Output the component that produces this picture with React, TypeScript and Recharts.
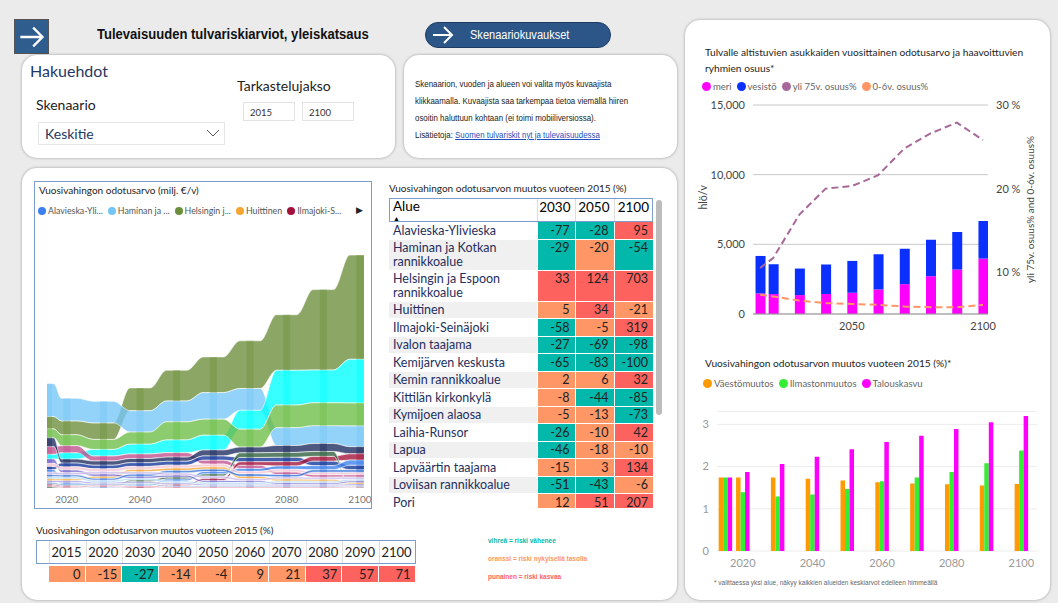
import { Area, Bar, BarChart, CartesianGrid, ComposedChart, Line, XAxis, YAxis } from "recharts";

const SEGOE = "'Segoe UI', Lato, 'Open Sans', sans-serif";
const NARROW = "'Liberation Sans Narrow', 'Arial Narrow', 'Liberation Sans', sans-serif";

const YEARS = [2015, 2020, 2030, 2040, 2050, 2060, 2070, 2080, 2090, 2100];

// Vuosivahingon odotusarvo (milj. €/v) per alue — ribbon chart
const RIBBON_NAMES = [
  "Helsingin ja Espoon rannikkoalue",
  "Haminan ja Kotkan rannikkoalue",
  "Muu alue 1",
  "Muu alue 2",
  "Muu alue 3",
  "Muu alue 4",
  "Pori",
  "Ilmajoki-Seinäjoki",
  "Muu alue 5",
  "Alavieska-Ylivieska",
  "Huittinen",
  "Ivalon taajama",
  "Kemijärven keskusta",
  "Kemin rannikkoalue",
  "Kittilän kirkonkylä",
  "Kymijoen alaosa",
  "Laihia-Runsor",
  "Lapua",
  "Lapväärtin taajama",
];
const RIBBON_VALUES = [
  [12.5, 14, 16.7, 23, 31, 36, 48, 56, 81, 105],
  [33, 22.7, 21.7, 21.5, 21, 26.7, 22, 18, 18, 21],
  [4.7, 6.5, 6.7, 10, 13, 15, 19, 35, 33, 44],
  [9, 11, 10, 12, 18, 16, 18, 22.7, 23, 23],
  [7.7, 7, 5, 4.6, 4.5, 4, 3.2, 2.6, 2.5, 2.4],
  [8.8, 4, 4.3, 4.2, 4.2, 6, 5.8, 7, 8, 7.2],
  [3, 3.8, 3.5, 3.8, 3.9, 4.2, 4.4, 4.5, 4.6, 4.6],
  [1.5, 1.2, 0.8, 1.0, 1.4, 2.2, 3.5, 4.3, 4.8, 6.3],
  [1.2, 0.3, 0.3, 1.8, 2.0, 2.3, 4.6, 4.8, 4.9, 0.4],
  [2.6, 1.6, 0.6, 1.2, 1.9, 2.3, 2.9, 3.4, 4.1, 5.1],
  [2.0, 1.9, 2.1, 2.5, 2.7, 2.5, 2.3, 2.1, 1.9, 1.6],
  [4.5, 2.6, 2.3, 2.1, 2.0, 1.9, 1.8, 1.7, 1.6, 1.6],
  [3.2, 3.0, 2.9, 2.8, 2.8, 2.7, 2.6, 2.6, 2.5, 2.5],
  [2.2, 2.1, 2.0, 2.2, 2.3, 2.3, 2.4, 2.4, 2.5, 2.5],
  [1.8, 1.7, 1.7, 1.6, 1.6, 1.6, 1.5, 1.5, 1.5, 1.5],
  [1.6, 1.5, 1.4, 1.4, 1.3, 1.3, 1.3, 1.2, 1.2, 1.2],
  [1.2, 1.1, 1.1, 1.0, 1.0, 1.0, 1.0, 0.9, 0.9, 0.9],
  [2.0, 1.9, 1.9, 1.8, 1.8, 1.8, 1.7, 1.7, 1.7, 1.7],
  [2.5, 2.4, 2.3, 2.3, 2.2, 2.2, 2.2, 2.1, 2.1, 2.1],
];
const RIBBON_COLORS = [
  "#6b8e3a", "#74c5f7", "#00ffff", "#6cbd45", "#c04f8c", "#1b2a5c", "#10359a", "#a3123a", "#2e5e3c",
  "#3b80ee", "#f7a531", "#6f62c9", "#f3c5d2", "#2e6ed8", "#9b8fdc", "#7aa4d8", "#d9708f", "#a9d7f5", "#c9b8e8",
];
const RIBBON_LEGEND = [
  { label: "Alavieska-Yli...", color: "#3b80ee" },
  { label: "Haminan ja ...", color: "#74c5f7" },
  { label: "Helsingin j...", color: "#6b8e3a" },
  { label: "Huittinen", color: "#f7a531" },
  { label: "Ilmajoki-S...", color: "#a3123a" },
];

// Vuosivahingon odotusarvon muutos vuoteen 2015 (%) — taulukko
const REGIONS = [
  "Alavieska-Ylivieska", "Haminan ja Kotkan rannikkoalue", "Helsingin ja Espoon rannikkoalue", "Huittinen",
  "Ilmajoki-Seinäjoki", "Ivalon taajama", "Kemijärven keskusta", "Kemin rannikkoalue", "Kittilän kirkonkylä",
  "Kymijoen alaosa", "Laihia-Runsor", "Lapua", "Lapväärtin taajama", "Loviisan rannikkoalue", "Pori",
];
const CHANGE_2030 = [-77, -29, 33, 5, -58, -27, -65, 2, -8, -5, -26, -46, -15, -51, 12];
const CHANGE_2050 = [-28, -20, 124, 34, -5, -69, -83, 6, -44, -13, -10, -18, 3, -43, 51];
const CHANGE_2100 = [95, -54, 703, -21, 319, -98, -100, 32, -85, -73, 42, -10, 134, -6, 207];

const TOTAL_CHANGE = [0, -15, -27, -14, -4, 9, 21, 37, 57, 71];

// Tulvalle altistuvat asukkaat (hlö/v) ja haavoittuvien ryhmien osuus (%)
const MERI = [1476, 1429, 1357, 1429, 1524, 1762, 2143, 2714, 3190, 3976];
const VESISTO = [2691, 2142, 1905, 2119, 2286, 2524, 2547, 2619, 2691, 2691];
const YLI_75 = [10.5, 11.7, 16.9, 20.0, 20.3, 21.6, 24.8, 26.6, 27.9, 25.8];
const ALLE_6 = [7.3, 7.1, 6.6, 6.3, 6.2, 6.1, 5.9, 5.8, 5.8, 6.1];

// Muutoksen osatekijät
const VAESTOMUUTOS = [1.74, 1.74, 1.74, 1.71, 1.67, 1.63, 1.6, 1.58, 1.55, 1.59];
const ILMASTONMUUTOS = [1.74, 1.39, 1.29, 1.34, 1.47, 1.65, 1.74, 1.87, 2.08, 2.38];
const TALOUSKASVU = [1.74, 1.87, 2.06, 2.23, 2.41, 2.58, 2.73, 2.89, 3.05, 3.2];

const TEAL = "#01B8AA";
const ORANGE = "#FE9666";
const RED = "#FD625E";

const RIBBON_X_MIN = 2014.6;
const RIBBON_X_MAX = 2101.1;
const PLATEAU = 2.8;
const STRIP = 0.95;

function riskColor(v: number) {
  if (v <= -25) return TEAL;
  if (v >= 25) return RED;
  return ORANGE;
}

type Range = Record<string, [number, number]>;

function buildRibbonRows() {
  const stacks: Range[] = [];
  let maxTotal = 0;
  YEARS.forEach((_, i) => {
    const order = RIBBON_NAMES.map((_, s) => s).sort((a, b) => RIBBON_VALUES[a][i] - RIBBON_VALUES[b][i]);
    const r: Range = {};
    let acc = 0;
    for (const s of order) {
      const v = RIBBON_VALUES[s][i];
      r[RIBBON_NAMES[s]] = [acc, acc + v];
      acc += v;
    }
    maxTotal = Math.max(maxTotal, acc);
    stacks.push(r);
  });
  const rows: { x: number; band: Range; strip: Range | null }[] = [];
  const last = YEARS.length - 1;
  YEARS.forEach((year, i) => {
    const left = i === 0 ? RIBBON_X_MIN : year - Math.min(PLATEAU, (year - YEARS[i - 1]) * 0.3);
    const right = i === last ? RIBBON_X_MAX : year + Math.min(PLATEAU, (YEARS[i + 1] - year) * 0.3);
    const sL = Math.max(left, year - STRIP);
    const sR = Math.min(right, year + STRIP);
    const band = stacks[i];
    if (sL > left) rows.push({ x: left, band, strip: null });
    rows.push({ x: sL, band, strip: band });
    rows.push({ x: sR, band, strip: band });
    if (right > sR) rows.push({ x: right, band, strip: null });
  });
  return { rows, maxTotal };
}

const RIBBON = buildRibbonRows();

const PEOPLE_DATA = YEARS.map((year, i) => ({
  year,
  meri: MERI[i],
  vesisto: VESISTO[i],
  yli75: YLI_75[i],
  alle6: ALLE_6[i],
}));

const FACTOR_DATA = YEARS.map((year, i) => ({
  year,
  vaesto: VAESTOMUUTOS[i],
  ilmasto: ILMASTONMUUTOS[i],
  talous: TALOUSKASVU[i],
}));

const panel: React.CSSProperties = {
  position: "absolute",
  background: "#fff",
  borderRadius: 15,
  boxShadow: "0 0 3px rgba(0,0,0,0.35)",
};

function Arrow({ size = 22 }: { size?: number }) {
  return (
    <svg width={size} height={size} viewBox="0 0 24 24">
      <path d="M2 12 H21 M13 4 L21 12 L13 20" stroke="#fff" strokeWidth={2} fill="none" />
    </svg>
  );
}

function Dot({ color, size = 8 }: { color: string; size?: number }) {
  return (
    <span
      style={{ display: "inline-block", width: size, height: size, borderRadius: "50%", background: color, marginRight: 2 }}
    />
  );
}

function Header() {
  return (
    <>
      <div
        style={{
          position: "absolute", left: 14, top: 19, width: 33, height: 33, background: "#2f5d8e",
          border: "1px solid #555", display: "flex", alignItems: "center", justifyContent: "center",
        }}
      >
        <Arrow size={28} />
      </div>
      <div
        style={{
          position: "absolute", left: 97, top: 26, fontFamily: NARROW, fontWeight: 700, fontSize: 14.5, color: "#111",
          transform: "scaleX(0.9)", transformOrigin: "left", whiteSpace: "nowrap",
        }}
      >
        Tulevaisuuden tulvariskiarviot, yleiskatsaus
      </div>
      <div
        style={{
          position: "absolute", left: 425, top: 22, width: 184, height: 24, background: "#2b5687",
          border: "1.5px solid #1d3b63", borderRadius: 14, color: "#fff", fontFamily: NARROW, fontSize: 12,
        }}
      >
        <div style={{ position: "absolute", left: 5, top: 0 }}>
          <Arrow size={24} />
        </div>
        <div style={{ position: "absolute", left: 44, top: 5, transform: "scaleX(0.92)", transformOrigin: "left", whiteSpace: "nowrap" }}>
          Skenaariokuvaukset
        </div>
      </div>
      <div style={{ ...panel, left: 22, top: 55, width: 373, height: 103 }}>
        <div style={{ position: "absolute", left: 8, top: 6, fontFamily: SEGOE, fontSize: 16, color: "#1f3864" }}>Hakuehdot</div>
        <div style={{ position: "absolute", left: 215, top: 22, fontFamily: SEGOE, fontSize: 14, color: "#222" }}>Tarkastelujakso</div>
        <div style={{ position: "absolute", left: 14, top: 41, fontFamily: SEGOE, fontSize: 14, color: "#222" }}>Skenaario</div>
        {["2015", "2100"].map((t, i) => (
          <div
            key={t}
            style={{
              position: "absolute", left: 221 + i * 59, top: 47, width: 52, height: 19, border: "1px solid #e2e2e2",
              fontFamily: SEGOE, fontSize: 9.5, color: "#333", lineHeight: "19px", paddingLeft: 6, boxSizing: "border-box",
            }}
          >
            {t}
          </div>
        ))}
        <div
          style={{
            position: "absolute", left: 16, top: 67, width: 187, height: 23, border: "1px solid #e6e6e6",
            boxSizing: "border-box", fontFamily: SEGOE, fontSize: 14, color: "#1f3864", paddingLeft: 6, lineHeight: "21px",
          }}
        >
          Keskitie
          <svg style={{ position: "absolute", right: 4, top: 5 }} width={14} height={10} viewBox="0 0 14 10">
            <path d="M1 2 L7 8 L13 2" stroke="#555" strokeWidth={1} fill="none" />
          </svg>
        </div>
      </div>
      <div style={{ ...panel, left: 404, top: 55, width: 273, height: 103 }}>
        <div
          style={{
            position: "absolute", left: 11, top: 21, fontFamily: NARROW, fontSize: 9, color: "#222", lineHeight: "17px",
            transform: "scaleX(0.88)", transformOrigin: "left", whiteSpace: "nowrap",
          }}
        >
          <div>Skenaarion, vuoden ja alueen voi valita myös kuvaajista</div>
          <div>klikkaamalla. Kuvaajista saa tarkempaa tietoa viemällä hiiren</div>
          <div>osoitin haluttuun kohtaan (ei toimi mobiiliversiossa).</div>
          <div>
            Lisätietoja: <span style={{ color: "#1f4fbf", textDecoration: "underline" }}>Suomen tulvariskit nyt ja tulevaisuudessa</span>
          </div>
        </div>
      </div>
    </>
  );
}

function RibbonChart() {
  return (
    <div style={{ position: "absolute", left: 34, top: 181, width: 338, height: 328, border: "1.5px solid #7b9ccc", boxSizing: "border-box" }}>
      <div style={{ position: "absolute", left: 4, top: 2, fontFamily: SEGOE, fontSize: 10, color: "#252423" }}>
        Vuosivahingon odotusarvo (milj. €/v)
      </div>
      <div style={{ position: "absolute", left: 3, top: 23, display: "flex", gap: 5, fontFamily: SEGOE, fontSize: 8.8, color: "#555", whiteSpace: "nowrap" }}>
        {RIBBON_LEGEND.map((l) => (
          <span key={l.label} style={{ display: "flex", alignItems: "center" }}>
            <Dot color={l.color} />
            {l.label}
          </span>
        ))}
      </div>
      <div style={{ position: "absolute", left: 321, top: 23, fontSize: 9, color: "#222" }}>▶</div>
      <div style={{ position: "absolute", left: 5, top: 63 }}>
        <ComposedChart width={336} height={262} data={RIBBON.rows} margin={{ top: 10, right: 12, bottom: 0, left: 7 }}>
          <XAxis
            dataKey="x"
            type="number"
            domain={[RIBBON_X_MIN, RIBBON_X_MAX]}
            ticks={[2020, 2040, 2060, 2080, 2100]}
            allowDataOverflow
            height={19}
            axisLine={false}
            tickLine={false}
            tick={{ fill: "#777", fontSize: 10, fontFamily: SEGOE }}
          />
          <YAxis hide domain={[0, RIBBON.maxTotal]} allowDataOverflow />
          {RIBBON_NAMES.map((name, s) => (
            <Area
              key={name}
              type="monotoneX"
              dataKey={(r: any) => r.band[name]}
              fill={RIBBON_COLORS[s]}
              fillOpacity={0.78}
              stroke="#fff"
              strokeWidth={0.6}
              dot={false}
              activeDot={false}
              isAnimationActive={false}
            />
          ))}
          {RIBBON_NAMES.map((name, s) => (
            <Area
              key={name + "-strip"}
              type="linear"
              dataKey={(r: any) => (r.strip ? r.strip[name] : null)}
              fill={RIBBON_COLORS[s]}
              fillOpacity={0.4}
              stroke="none"
              dot={false}
              activeDot={false}
              isAnimationActive={false}
            />
          ))}
        </ComposedChart>
      </div>
    </div>
  );
}

function RegionTable() {
  const cell: React.CSSProperties = {
    textAlign: "right", verticalAlign: "top", padding: "1.5px 5px 1.5px 0", borderBottom: "1px solid #fff",
    borderLeft: "1px solid #fff", color: "#222",
  };
  return (
    <>
      <div style={{ position: "absolute", left: 389, top: 182, fontFamily: SEGOE, fontSize: 10, color: "#252423" }}>
        Vuosivahingon odotusarvon muutos vuoteen 2015 (%)
      </div>
      <div style={{ position: "absolute", left: 389, top: 198, width: 264, height: 310, overflow: "hidden" }}>
        <table style={{ borderCollapse: "collapse", width: 264, tableLayout: "fixed", fontFamily: SEGOE, fontSize: 12.5, lineHeight: "13.5px" }}>
          <colgroup>
            <col style={{ width: 148 }} />
            <col style={{ width: 38 }} />
            <col style={{ width: 39 }} />
            <col style={{ width: 39 }} />
          </colgroup>
          <thead>
            <tr style={{ height: 24, outline: "1.5px solid #7b9ccc", outlineOffset: -1 }}>
              <th style={{ textAlign: "left", fontWeight: 400, padding: "2px 4px", position: "relative", verticalAlign: "top", fontSize: 13.5 }}>
                Alue
                <span style={{ position: "absolute", left: 4, top: 14, fontSize: 7 }}>▲</span>
              </th>
              {["2030", "2050", "2100"].map((y) => (
                <th key={y} style={{ textAlign: "right", fontWeight: 400, padding: "3px 4px 0 0", borderLeft: "1px solid #ddd", fontSize: 13.5, verticalAlign: "top" }}>
                  {y}
                </th>
              ))}
            </tr>
          </thead>
          <tbody>
            {REGIONS.map((name, i) => (
              <tr key={name}>
                <td style={{ padding: "1.5px 4px", color: "#252f5e", background: i % 2 ? "#f0f0f0" : "#fff", borderBottom: "1px solid #fff" }}>{name}</td>
                {[CHANGE_2030[i], CHANGE_2050[i], CHANGE_2100[i]].map((v, k) => (
                  <td key={k} style={{ ...cell, background: riskColor(v) }}>
                    {v}
                  </td>
                ))}
              </tr>
            ))}
          </tbody>
        </table>
      </div>
      <div style={{ position: "absolute", left: 656, top: 200, width: 6, height: 215, borderRadius: 3, background: "#bcbcbc" }} />
    </>
  );
}

function TotalTable() {
  return (
    <>
      <div style={{ position: "absolute", left: 36, top: 524, fontFamily: SEGOE, fontSize: 10, color: "#252423" }}>
        Vuosivahingon odotusarvon muutos vuoteen 2015 (%)
      </div>
      <div style={{ position: "absolute", left: 36, top: 540, width: 380, height: 24, border: "1.5px solid #7b9ccc", boxSizing: "border-box" }} />
      {YEARS.map((y, i) => (
        <div key={y}>
          <div
            style={{
              position: "absolute", left: 49 + i * 36.67, top: 541, width: 36.67, height: 22, boxSizing: "border-box",
              borderLeft: "1px solid #ddd", textAlign: "right", paddingRight: 4, fontFamily: SEGOE, fontSize: 13, lineHeight: "22px", color: "#222",
            }}
          >
            {y}
          </div>
          <div
            style={{
              position: "absolute", left: 49 + i * 36.67, top: 566, width: 35.67, height: 16, background: riskColor(TOTAL_CHANGE[i]),
              textAlign: "right", paddingRight: 4, boxSizing: "border-box", fontFamily: SEGOE, fontSize: 13, lineHeight: "16px", color: "#222",
            }}
          >
            {TOTAL_CHANGE[i]}
          </div>
        </div>
      ))}
      <div style={{ position: "absolute", left: 488, top: 532, fontFamily: "'Liberation Sans', sans-serif", fontSize: 6.5, fontWeight: 700, lineHeight: "18px" }}>
        <div style={{ color: TEAL }}>vihreä = riski vähenee</div>
        <div style={{ color: ORANGE }}>oranssi = riski nykyisellä tasolla</div>
        <div style={{ color: RED }}>punainen = riski kasvaa</div>
      </div>
    </>
  );
}

function PeopleChart() {
  return (
    <>
      <div style={{ position: "absolute", left: 705, top: 44, width: 340, fontFamily: SEGOE, fontSize: 10.2, lineHeight: "16px", color: "#252423" }}>
        Tulvalle altistuvien asukkaiden vuosittainen odotusarvo ja haavoittuvien ryhmien osuus*
      </div>
      <div style={{ position: "absolute", left: 702, top: 81, display: "flex", gap: 5, fontFamily: SEGOE, fontSize: 9.5, color: "#666" }}>
        {[
          ["meri", "#ff00ff"],
          ["vesistö", "#0a2fff"],
          ["yli 75v. osuus%", "#A66999"],
          ["0-6v. osuus%", ORANGE],
        ].map(([l, c]) => (
          <span key={l} style={{ display: "flex", alignItems: "center" }}>
            <Dot color={c} size={9} />
            {l}
          </span>
        ))}
      </div>
      <div style={{ position: "absolute", left: 695, top: 95 }}>
        <ComposedChart width={345} height={250} data={PEOPLE_DATA} margin={{ top: 10, right: 0, bottom: 0, left: 0 }}>
          <CartesianGrid vertical={false} stroke="#c8c8c8" yAxisId="left" />
          <XAxis
            dataKey="year"
            type="number"
            domain={[2012.3, 2101.9]}
            ticks={[2050, 2100]}
            allowDataOverflow
            height={31}
            axisLine={{ stroke: "#999" }}
            tickLine={false}
            tick={{ fill: "#444", fontSize: 11, fontFamily: SEGOE }}
          />
          <YAxis
            yAxisId="left"
            width={58}
            domain={[0, 15000]}
            ticks={[0, 5000, 10000, 15000]}
            tickFormatter={(v: number) => v.toLocaleString("en-US")}
            axisLine={false}
            tickLine={false}
            tick={{ fill: "#444", fontSize: 11, fontFamily: SEGOE }}
            label={{ value: "hlö/v", angle: -90, position: "insideLeft", offset: 8, style: { fill: "#444", fontSize: 10.5, fontFamily: SEGOE } }}
          />
          <YAxis
            yAxisId="right"
            orientation="right"
            width={52}
            domain={[5, 30]}
            ticks={[10, 20, 30]}
            tickFormatter={(v: number) => `${v} %`}
            axisLine={false}
            tickLine={false}
            tick={{ fill: "#444", fontSize: 11, fontFamily: SEGOE }}
            label={{
              value: "yli 75v. osuus% and 0-6v. osuus%",
              angle: -90,
              position: "insideRight",
              offset: 10,
              style: { fill: "#444", fontSize: 10, fontFamily: SEGOE, textAnchor: "middle" },
            }}
          />
          <Bar yAxisId="left" dataKey="meri" stackId="a" fill="#ff00ff" barSize={10} isAnimationActive={false} />
          <Bar yAxisId="left" dataKey="vesisto" stackId="a" fill="#0a2fff" barSize={10} isAnimationActive={false} />
          <Line yAxisId="right" dataKey="yli75" stroke="#A66999" strokeWidth={2} strokeDasharray="7 4" dot={false} type="linear" isAnimationActive={false} />
          <Line yAxisId="right" dataKey="alle6" stroke={ORANGE} strokeWidth={2} strokeDasharray="7 4" dot={false} type="linear" isAnimationActive={false} />
        </ComposedChart>
      </div>
    </>
  );
}

function FactorChart() {
  return (
    <>
      <div style={{ position: "absolute", left: 705, top: 357, fontFamily: SEGOE, fontSize: 10.2, color: "#252423" }}>
        Vuosivahingon odotusarvon muutos vuoteen 2015 (%)*
      </div>
      <div style={{ position: "absolute", left: 703, top: 378, display: "flex", gap: 5, fontFamily: SEGOE, fontSize: 9.5, color: "#666" }}>
        {[
          ["Väestömuutos", "#ff9a00"],
          ["Ilmastonmuutos", "#33ee33"],
          ["Talouskasvu", "#ff00ff"],
        ].map(([l, c]) => (
          <span key={l} style={{ display: "flex", alignItems: "center" }}>
            <Dot color={c} size={9} />
            {l}
          </span>
        ))}
      </div>
      <div style={{ position: "absolute", left: 695, top: 405 }}>
        <BarChart width={345} height={175} data={FACTOR_DATA} barGap={0} margin={{ top: 6.7, right: 3, bottom: 0, left: 0 }}>
          <CartesianGrid vertical={false} stroke="#ececec" />
          <XAxis
            dataKey="year"
            type="number"
            domain={[2012.6, 2104.5]}
            ticks={[2020, 2040, 2060, 2080, 2100]}
            allowDataOverflow
            height={29}
            axisLine={false}
            tickLine={false}
            tick={{ fill: "#999", fontSize: 11, fontFamily: SEGOE }}
          />
          <YAxis
            width={22}
            domain={[0, 3.3]}
            ticks={[0, 1, 2, 3]}
            axisLine={false}
            tickLine={false}
            tick={{ fill: "#999", fontSize: 11, fontFamily: SEGOE }}
          />
          <Bar dataKey="vaesto" fill="#ff9a00" barSize={4.5} isAnimationActive={false} />
          <Bar dataKey="ilmasto" fill="#33ee33" barSize={4.5} isAnimationActive={false} />
          <Bar dataKey="talous" fill="#ff00ff" barSize={4.5} isAnimationActive={false} />
        </BarChart>
      </div>
      <div style={{ position: "absolute", left: 714, top: 579, fontFamily: "'Liberation Sans', sans-serif", fontSize: 6.5, color: "#666" }}>
        * valittaessa yksi alue, näkyy kaikkien alueiden keskiarvot edelleen himmeällä
      </div>
    </>
  );
}

export default function App() {
  return (
    <div style={{ position: "absolute", left: 0, top: 0, width: 1058, height: 603, background: "#ebebeb", overflow: "hidden" }}>
      <Header />
      <div style={{ ...panel, left: 22, top: 168, width: 655, height: 432 }} />
      <div style={{ ...panel, left: 685, top: 20, width: 365, height: 580 }} />
      <RibbonChart />
      <RegionTable />
      <TotalTable />
      <PeopleChart />
      <FactorChart />
    </div>
  );
}
